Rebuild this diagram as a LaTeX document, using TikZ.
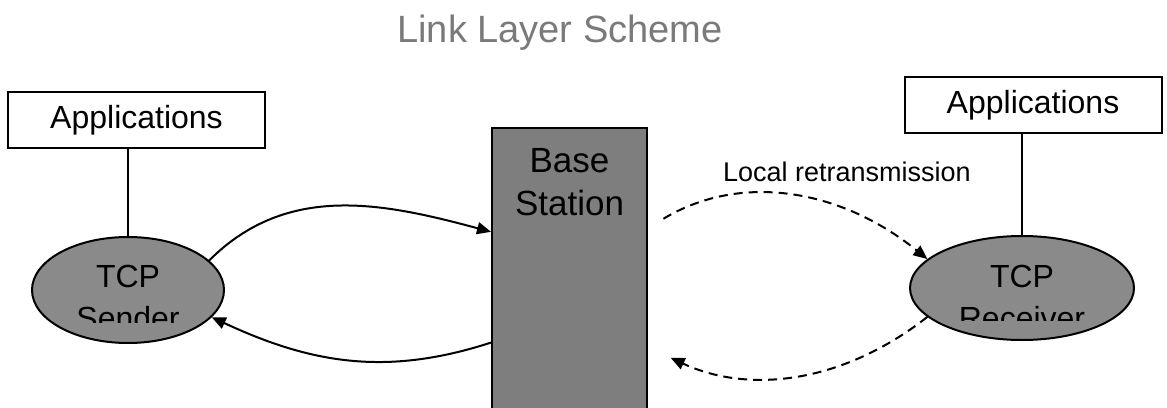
\documentclass[tikz,border=0pt]{standalone}
\usepackage{fontspec}
\setmainfont{Liberation Sans}
\usetikzlibrary{shapes.geometric, arrows.meta, positioning}

\definecolor{shadegray}{HTML}{8A8A8A}
\definecolor{stationgray}{HTML}{7E7E7E}
\definecolor{titlegray}{HTML}{7A7A7A}

\begin{document}
\begin{tikzpicture}[x=1pt, y=1pt, line width=2pt,
	appbox/.style={draw, rectangle, minimum width=257pt, minimum height=56pt,
		inner sep=0pt, font=\fontsize{32}{38}\selectfont},
	tcpnode/.style={draw, ellipse, fill=shadegray, inner sep=0pt},
	tcptext/.style={align=center, inner sep=0pt, font=\fontsize{32}{42}\selectfont},
	link/.style={-{Triangle[length=14pt, width=12pt]}},
	retrans/.style={link, dash pattern=on 9pt off 6pt}
	]
	
	\useasboundingbox (0,0) rectangle (1167,-407);
	
	% title
	\node[text=titlegray, font=\fontsize{38}{44}\selectfont] (title) at (560,-33) {Link Layer Scheme};
	
	% applications
	\node[appbox] (appleft) at (136.5,-120) {Applications};
	\node[appbox] (appright) at (1033,-105) {Applications};
	
	% hosts
	\node[tcpnode, minimum width=192pt, minimum height=106pt] (sender) at (128,-290) {};
	\node[tcpnode, minimum width=224pt, minimum height=104pt] (receiver) at (1022,-288) {};
	
	\begin{scope}
		\clip (0,-322) rectangle (1167,0);
		\node[tcptext, anchor=north] (sendertext) at (128,-264) {TCP\\Sender};
	\end{scope}
	\begin{scope}
		\clip (0,-320) rectangle (1167,0);
		\node[tcptext, anchor=north] (receivertext) at (1022,-264) {TCP\\Receiver};
	\end{scope}
	
	% base station
	\node[draw, rectangle, fill=stationgray, minimum width=155pt, minimum height=302pt,
		inner sep=0pt] (base) at (569.5,-279) {};
	\node[align=center, inner sep=0pt, font=\fontsize{35}{43}\selectfont, anchor=north]
		(basetext) at (base.north) [yshift=-20pt] {Base\\Station};
	
	\node[font=\fontsize{27}{32}\selectfont] (localtext) at (847,-172) {Local retransmission};
	
	% links
	\draw (sender.north |- appleft.south) -- (sender.north);
	\draw (receiver.north |- appright.south) -- (receiver.north);
	
	\draw[link] (sender.20) to[out=45, in=165] (base.149);
	\draw[link] (base.219) to[out=198, in=335] (sender.342);
	\draw[retrans, shorten <=18pt] (base.33) to[out=31, in=141] (receiver.163);
	\draw[retrans, shorten >=25pt] (receiver.197) to[out=218, in=335] (base.319);
	
\end{tikzpicture}
\end{document}
